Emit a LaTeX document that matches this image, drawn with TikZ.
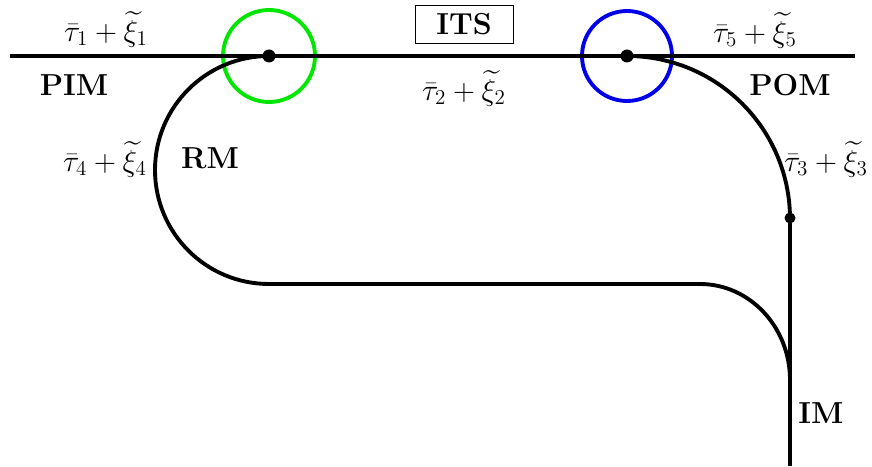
\documentclass[tikz,border=0pt]{standalone}
\usepackage{amsmath,amssymb}
\usepackage{tikz}
\usetikzlibrary{positioning}
\definecolor{mergegreen}{RGB}{0,230,0}
\definecolor{divblue}{RGB}{0,0,235}
\tikzset{
  track/.style={black,line width=2.2pt},
  zone/.style={draw,circle,line width=2.2pt,inner sep=0pt},
  junction/.style={circle,fill=black,inner sep=0pt,minimum size=2.6mm},
  lab/.style={font=\LARGE,inner sep=1pt},
  sect/.style={font=\LARGE\bfseries,inner sep=1pt},
}

\begin{document}
\begin{tikzpicture}[x=1cm,y=1cm]
  \path[use as bounding box] (0,0) rectangle (17.44,9.32);

  % track geometry
  \coordinate (pim) at (0.2,8.2);
  \coordinate (pom) at (17.1,8.2);
  \coordinate (merge) at (5.38,8.2);
  \coordinate (diverge) at (12.54,8.2);
  \coordinate (loopend) at (5.38,3.64);
  \coordinate (bend) at (14.0,3.64);
  \coordinate (imtop) at (15.8,4.96);
  \coordinate (imjoin) at (15.8,1.72);
  \coordinate (imend) at (15.8,0);

  \node[zone,draw=mergegreen,minimum size=18.4mm] (gz) at (merge) {};
  \node[zone,draw=divblue,minimum size=18mm] (bz) at (diverge) {};

  \draw[track] (pim) -- (pom);
  \draw[track] (merge) arc[start angle=90,end angle=270,radius=2.28] -- (bend)
    arc[start angle=90,end angle=0,x radius=1.8,y radius=1.92];
  \draw[track] (diverge) arc[start angle=90,end angle=0,radius=3.26];
  \draw[track] (imtop) -- (imend);

  \node[junction] (jm) at (merge) {};
  \node[junction] (jd) at (diverge) {};
  \node[junction,minimum size=2.2mm] (ji) at (imtop) {};

  \node[draw,line width=0.5pt,minimum width=19.6mm,minimum height=7.6mm,
        inner sep=0pt,sect] (its) at (9.28,8.84) {ITS};

  \node[lab] (t1) at (2.12,8.74) {$\bar{\tau}_1+\widetilde{\xi}_1$};
  \node[lab] (t2) at (9.28,7.56) {$\bar{\tau}_2+\widetilde{\xi}_2$};
  \node[lab] (t3) at (16.52,6.14) {$\bar{\tau}_3+\widetilde{\xi}_3$};
  \node[lab] (t4) at (2.1,6.14) {$\bar{\tau}_4+\widetilde{\xi}_4$};
  \node[lab] (t5) at (15.1,8.72) {$\bar{\tau}_5+\widetilde{\xi}_5$};

  \node[sect] (pimlab) at (1.48,7.62) {PIM};
  \node[sect] (rmlab) at (4.2,6.16) {RM};
  \node[sect] (pomlab) at (15.8,7.62) {POM};
  \node[sect] (imlab) at (16.42,1.06) {IM};
\end{tikzpicture}
\end{document}
